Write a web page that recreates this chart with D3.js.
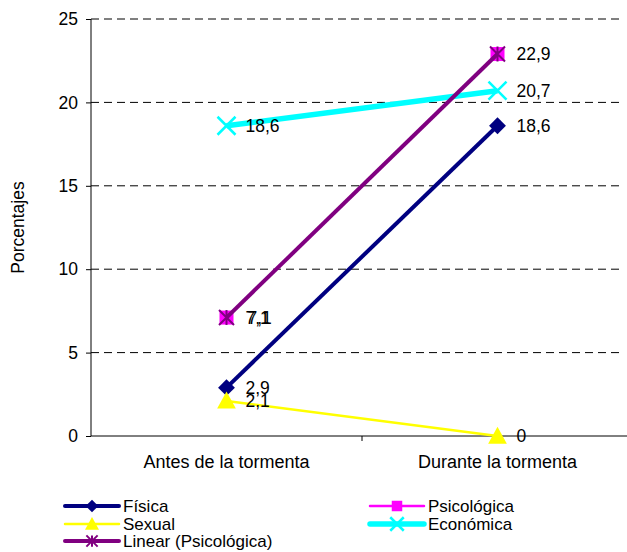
<!DOCTYPE html>
<html>
<head>
<meta charset="utf-8">
<script src="https://cdn.jsdelivr.net/npm/d3@7"></script>
<style>
  body { margin: 0; background: #fff; }
  svg text { font-family: Arial, "Liberation Sans", sans-serif; fill: #000; }
</style>
</head>
<body>
<svg id="chart" width="627" height="552"></svg>
<script>
var categories = ['Antes de la tormenta', 'Durante la tormenta'];
var fisica = [2.9, 18.6];
var psicologica = [7.1, 22.9];
var sexual = [2.1, 0];
var economica = [18.6, 20.7];
var yTicks = [0, 5, 10, 15, 20, 25];

var margin = {top: 19, left: 91, bottom: 436, right: 633};
var svg = d3.select('#chart');

var x = d3.scaleBand().domain(categories).range([margin.left, margin.right]);
var y = d3.scaleLinear().domain([0, 25]).range([margin.bottom, margin.top]);
var cx = function(i){ return x(categories[i]) + x.bandwidth() / 2; };

// gridlines
svg.append('g').selectAll('line')
  .data(yTicks.filter(function(d){ return d > 0; }))
  .enter().append('line')
  .attr('x1', margin.left).attr('x2', 621)
  .attr('y1', function(d){ return y(d); }).attr('y2', function(d){ return y(d); })
  .attr('stroke', '#000').attr('stroke-width', 1)
  .style('stroke-dasharray', '8,5');

// y axis
var yAxis = svg.append('g')
  .attr('transform', 'translate(' + margin.left + ',0)')
  .call(d3.axisLeft(y).tickValues(yTicks).tickSize(5).tickPadding(8));
yAxis.select('.domain').attr('d', 'M0,' + margin.top + 'V' + margin.bottom);
yAxis.selectAll('text').style('font-size', '17.5px');

// x axis
var xAxis = svg.append('g')
  .attr('transform', 'translate(0,' + margin.bottom + ')')
  .call(d3.axisBottom(x).tickSize(0).tickPadding(19));
xAxis.select('.domain').attr('d', 'M' + margin.left + ',0H' + margin.right);
xAxis.selectAll('text').style('font-size', '18px');
xAxis.append('line')
  .attr('x1', x(categories[1])).attr('x2', x(categories[1]))
  .attr('y1', 0).attr('y2', 5).attr('stroke', '#000');

svg.append('text')
  .attr('transform', 'translate(24,' + ((margin.top + margin.bottom) / 2) + ') rotate(-90)')
  .attr('text-anchor', 'middle')
  .style('font-size', '17.5px')
  .text('Porcentajes');

var line = d3.line()
  .x(function(d, i){ return cx(i); })
  .y(function(d){ return y(d); });

// marker shapes
function marker(g, type, color, s) {
  if (type === 'diamond') {
    g.append('path').attr('d', d3.symbol().type(d3.symbolDiamond2).size(s * s * 0.5)())
      .attr('fill', color);
  } else if (type === 'square') {
    g.append('rect').attr('x', -s / 2).attr('y', -s / 2).attr('width', s).attr('height', s)
      .attr('fill', color);
  } else if (type === 'triangle') {
    g.append('path').attr('d', 'M0,' + (-s * 0.55) + 'L' + (s * 0.55) + ',' + (s * 0.45) + 'L' + (-s * 0.55) + ',' + (s * 0.45) + 'Z')
      .attr('fill', color);
  } else if (type === 'x') {
    g.append('path').attr('d', 'M' + (-s / 2) + ',' + (-s / 2) + 'L' + (s / 2) + ',' + (s / 2) + 'M' + (s / 2) + ',' + (-s / 2) + 'L' + (-s / 2) + ',' + (s / 2))
      .attr('stroke', color).attr('stroke-width', 2.5).attr('fill', 'none');
  } else if (type === 'star') {
    var h = s / 2;
    g.append('path').attr('d', 'M' + (-h) + ',' + (-h) + 'L' + h + ',' + h + 'M' + h + ',' + (-h) + 'L' + (-h) + ',' + h + 'M0,' + (-h) + 'V' + h)
      .attr('stroke', color).attr('stroke-width', 2).attr('fill', 'none');
  }
}

var series = [
  {name: 'Física', values: fisica, color: '#000080', width: 4, marker: 'diamond', size: 19, labels: true},
  {name: 'Psicológica', values: psicologica, color: '#ff00ff', width: 1.5, marker: 'square', size: 14, labels: true},
  {name: 'Sexual', values: sexual, color: '#ffff00', width: 2.5, marker: 'triangle', size: 17, labels: true},
  {name: 'Económica', values: economica, color: '#00ffff', width: 5.5, marker: 'x', size: 18, labels: true},
  {name: 'Linear (Psicológica)', values: psicologica, color: '#800080', width: 4, marker: 'star', size: 15, labels: false}
];

series.forEach(function(s){
  var g = svg.append('g');
  g.append('path').datum(s.values)
    .attr('d', line)
    .attr('fill', 'none')
    .attr('stroke', s.color)
    .attr('stroke-width', s.width);
  s.values.forEach(function(v, i){
    marker(g.append('g').attr('transform', 'translate(' + cx(i) + ',' + y(v) + ')'), s.marker, s.color, s.size);
  });
});

// data labels
series.filter(function(s){ return s.labels; }).forEach(function(s){
  s.values.forEach(function(v, i){
    svg.append('text')
      .attr('x', cx(i) + 19).attr('y', y(v))
      .attr('dy', '0.35em')
      .style('font-size', '17.5px')
      .text(String(v).replace('.', ','));
  });
});
// overlapping duplicate label seen on the first Psicológica point
svg.append('text')
  .attr('x', cx(0) + 21).attr('y', y(psicologica[0]))
  .attr('dy', '0.35em')
  .style('font-size', '17.5px')
  .text(String(psicologica[0]).replace('.', ','));

// legend
var legendPos = [[65, 506], [370, 506], [65, 524], [370, 524], [65, 541]];
series.forEach(function(s, j){
  var p = legendPos[j];
  var g = svg.append('g').attr('transform', 'translate(' + p[0] + ',' + p[1] + ')');
  g.append('line').attr('x1', 0).attr('x2', 54).attr('y1', 0).attr('y2', 0)
    .attr('stroke', s.color).attr('stroke-width', Math.max(s.width, 2.5))
    .attr('stroke-linecap', 'round');
  marker(g.append('g').attr('transform', 'translate(27,0)'), s.marker, s.color, s.size * 0.75);
  g.append('text').attr('x', 58).attr('y', 0).attr('dy', '0.35em')
    .style('font-size', '17px').text(s.name);
});
</script>
</body>
</html>
